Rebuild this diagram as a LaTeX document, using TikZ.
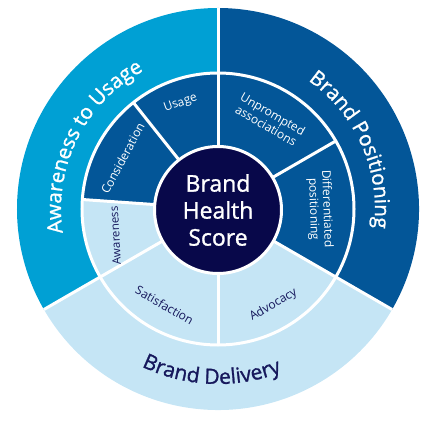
\documentclass[tikz,border=0pt]{standalone}
\usepackage{fontspec}
\setmainfont{Open Sans}
\newfontfamily\semib[FakeBold=1.2]{Open Sans}
\usetikzlibrary{decorations.text}
\definecolor{cyanA}{RGB}{0,160,212}
\definecolor{darkB}{RGB}{3,86,152}
\definecolor{lightC}{RGB}{197,229,245}
\definecolor{navyD}{RGB}{8,8,74}
\definecolor{txtN}{RGB}{22,24,92}
\begin{document}
\begin{tikzpicture}[x=1pt,y=1pt,
  sep/.style={white, line width=3pt},
  midlbl/.style={font=\fontsize{12}{13.5}\selectfont, align=center, inner sep=0pt},
  outertxt/.style={decorate, decoration={text along path, text align=center, text={#1}}}]
\useasboundingbox (-218,-211) rectangle (218,209);
\def\Ro{201}\def\Rm{136}\def\Ri{60}
% outer sectors
\fill[cyanA] (0,0) -- (90:\Ro) arc[start angle=90,end angle=210,radius=\Ro] -- cycle;
\fill[darkB] (0,0) -- (-30:\Ro) arc[start angle=-30,end angle=90,radius=\Ro] -- cycle;
\fill[lightC] (0,0) -- (210:\Ro) arc[start angle=210,end angle=330,radius=\Ro] -- cycle;
% middle ring sectors that differ
\fill[darkB] (0,0) -- (90:\Rm) arc[start angle=90,end angle=176,radius=\Rm] -- cycle;
\fill[lightC] (0,0) -- (176:\Rm) arc[start angle=176,end angle=210,radius=\Rm] -- cycle;
% separators
\draw[sep] (0,0) circle[radius=\Rm];
\draw[sep] (90:\Ri) -- (90:\Ro);
\draw[sep] (-30:\Ri) -- (-30:\Ro);
\draw[sep] (210:\Ri) -- (210:\Ro);
\draw[sep] (30:\Ri) -- (30:\Rm);
\draw[sep] (128.5:\Ri) -- (128.5:\Rm);
\draw[sep] (176:\Ri) -- (176:\Rm);
\draw[sep] (270:\Ri) -- (270:\Rm);
% centre
\node[circle, fill=navyD, draw=white, line width=3pt, minimum size=127pt, inner sep=0pt, outer sep=0pt,
  text=white, align=center, font=\semib\fontsize{23}{27}\selectfont] (core) at (0,-1) {Brand\\Health\\Score};
% middle labels
\node[midlbl, text=white, rotate=19.5] (usage) at (109.5:112) {Usage};
\node[midlbl, text=white, rotate=62] (consid) at (152:108) {Consideration};
\node[midlbl, text=txtN, rotate=93, font=\fontsize{11.5}{13}\selectfont] (aware) at (194.5:106) {Awareness};
\node[midlbl, text=white, rotate=-30] (unpr) at (60:103) {Unprompted\\associations};
\node[midlbl, text=white, rotate=-88] (diff) at (0:102) {Differentiated\\positioning};
\node[midlbl, text=txtN, rotate=-30] (satis) at (241:110) {Satisfaction};
\node[midlbl, text=txtN, rotate=30] (advo) at (300:111) {Advocacy};
% outer curved labels
\path[outertxt={|\color{white}\semib\fontsize{20.5}{24}\selectfont|Awareness to Usage}] (210:157) arc[start angle=210,end angle=97,radius=157];
\path[outertxt={|\color{white}\semib\fontsize{20.5}{24}\selectfont|Brand Positioning}] (75:157) arc[start angle=75,end angle=-27,radius=157];
\path[outertxt={|\color{txtN}\semib\fontsize{21}{24}\selectfont|Brand Delivery}] (225:175) arc[start angle=225,end angle=310.5,radius=175];
\end{tikzpicture}
\end{document}
